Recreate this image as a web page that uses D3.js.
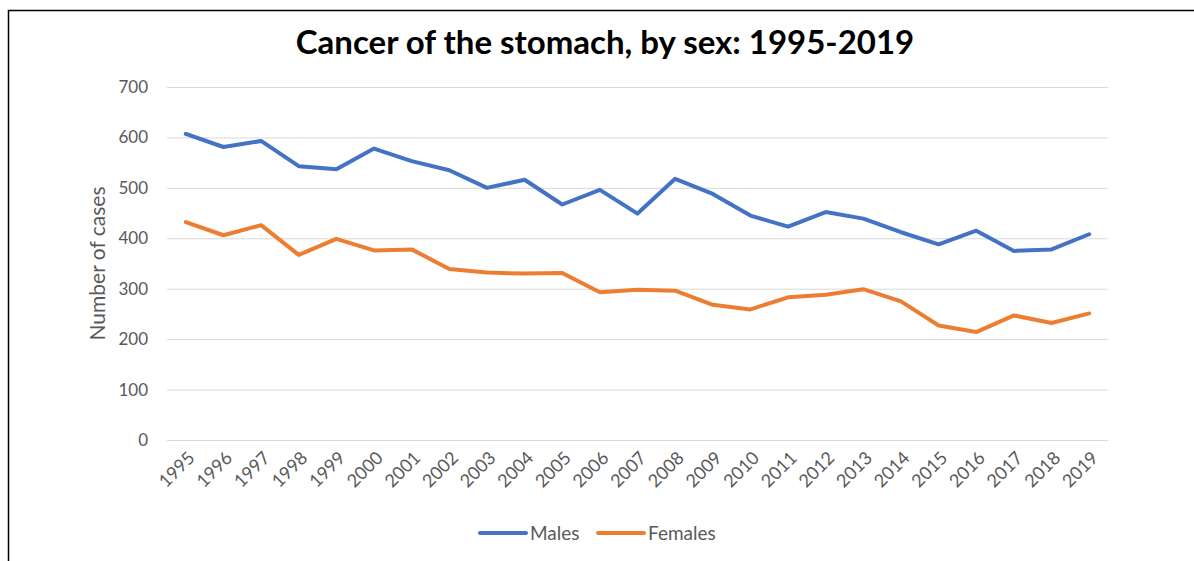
<!DOCTYPE html>
<html>
<head>
<meta charset="utf-8">
<script src="https://cdn.jsdelivr.net/npm/d3@7"></script>
<style>
  html, body { margin: 0; padding: 0; background: #fff; }
  svg { display: block; font-family: Lato, "Open Sans", sans-serif; }
</style>
</head>
<body>
<div id="chart"></div>
<script>
const years = ['1995','1996','1997','1998','1999','2000','2001','2002','2003','2004','2005','2006',
  '2007','2008','2009','2010','2011','2012','2013','2014','2015','2016','2017','2018','2019']
const males = [607,581,593,543,537,578,553,535,500,516,467,496,449,518,488,445,423,452,439,412,388,415,375,378,408]
const females = [432,406,426,367,399,376,378,339,332,330,331,293,298,296,268,259,283,288,299,275,227,214,247,232,251]
const yTicks = [0,100,200,300,400,500,600,700]
const seriesNames = ['Males','Females']
const seriesColors = ['#4472C4','#ED7D31']

const W = 1194, H = 561
const plot = {left: 167, right: 1108, top: 87, bottom: 440}

const svg = d3.select('#chart').append('svg')
  .attr('width', W).attr('height', H)

// frame of the chart (runs off the right and bottom)
svg.append('rect')
  .attr('x', 8.5).attr('y', 10.5)
  .attr('width', 1300).attr('height', 700)
  .attr('fill', 'none').attr('stroke', '#000').attr('stroke-width', 1.5)

svg.append('text')
  .attr('x', 605).attr('y', 54)
  .attr('text-anchor', 'middle')
  .attr('font-size', 33).attr('font-weight', 'bold')
  .attr('fill', '#000')
  .text('Cancer of the stomach, by sex: 1995-2019')

const x = d3.scaleBand().domain(years).range([plot.left, plot.right])
const y = d3.scaleLinear().domain([0, 700]).range([plot.bottom, plot.top])
const cx = d => x(d) + x.bandwidth() / 2

// gridlines
svg.append('g')
  .selectAll('line')
  .data(yTicks)
  .join('line')
  .attr('x1', plot.left).attr('x2', plot.right)
  .attr('y1', d => y(d) + 0.5).attr('y2', d => y(d) + 0.5)
  .attr('stroke', '#d9d9d9').attr('stroke-width', 1)

// y axis labels
const yAxis = svg.append('g')
  .attr('transform', `translate(${plot.left},0)`)
  .call(d3.axisLeft(y).tickValues(yTicks).tickSize(0).tickPadding(19))
yAxis.select('.domain').remove()
yAxis.selectAll('text')
  .attr('font-family', 'Lato, "Open Sans", sans-serif')
  .attr('font-size', 17).attr('fill', '#595959')

svg.append('text')
  .attr('transform', `translate(105,${(plot.top + plot.bottom) / 2}) rotate(-90)`)
  .attr('text-anchor', 'middle')
  .attr('font-size', 21).attr('fill', '#595959')
  .text('Number of cases')

// x axis labels
const xAxis = svg.append('g')
  .attr('transform', `translate(0,${plot.bottom})`)
  .call(d3.axisBottom(x).tickSize(0).tickPadding(0))
xAxis.select('.domain').remove()
xAxis.selectAll('text')
  .attr('font-family', 'Lato, "Open Sans", sans-serif')
  .attr('font-size', 18).attr('fill', '#595959')
  .attr('text-anchor', 'end')
  .attr('dy', 0)
  .attr('transform', 'translate(10,19) rotate(-45)')

// lines
const line = d3.line().x((d, i) => cx(years[i])).y(d => y(d))
const series = [males, females]
svg.append('g')
  .selectAll('path')
  .data(series)
  .join('path')
  .attr('d', d => line(d))
  .attr('fill', 'none')
  .attr('stroke', (d, i) => seriesColors[i])
  .attr('stroke-width', 4)
  .attr('stroke-linejoin', 'round')
  .attr('stroke-linecap', 'round')

// legend
const legendX = [480, 598]
const lg = svg.append('g')
  .selectAll('g')
  .data(seriesNames)
  .join('g')
  .attr('transform', (d, i) => `translate(${legendX[i]},533)`)
lg.append('line')
  .attr('x1', 0).attr('x2', 46)
  .attr('stroke', (d, i) => seriesColors[i])
  .attr('stroke-width', 4)
  .attr('stroke-linecap', 'round')
lg.append('text')
  .attr('x', 50).attr('y', 7)
  .attr('font-size', 19).attr('fill', '#595959')
  .text(d => d)
</script>
</body>
</html>
